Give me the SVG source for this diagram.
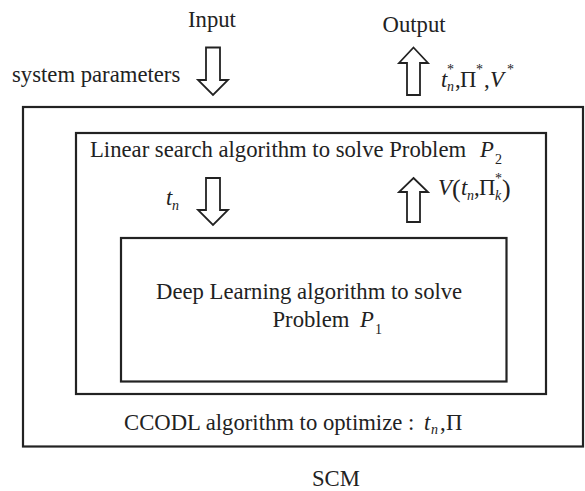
<svg xmlns="http://www.w3.org/2000/svg" width="585" height="491" viewBox="0 0 585 491">
<style>
text{font-family:"Liberation Serif","Times New Roman",serif;font-size:22.7px;fill:#222}
.i{font-style:italic}
.s{font-size:14px}
.p{font-size:26px}
.box{fill:none;stroke:#222;stroke-width:2.2}
.arr{fill:#fff;stroke:#222;stroke-width:1.8;stroke-linejoin:miter}
</style>
<rect width="585" height="491" fill="#fff"/>
<g id="scm">
<rect class="box" x="23" y="107" width="560" height="339.5"/>
<text x="124" y="430">CCODL algorithm to optimize :</text>
<text class="i" x="424" y="430">t</text>
<text class="i s" x="431" y="434">n</text>
<text x="440" y="430">,</text>
<text x="446" y="430">Π</text>
<text x="312" y="486">SCM</text>
</g>
<g id="linear">
<rect class="box" x="76" y="133" width="470" height="261"/>
<text x="90" y="157">Linear search algorithm to solve Problem</text>
<text class="i" x="480" y="157">P</text>
<text class="s" x="495" y="164">2</text>
</g>
<g id="deep">
<rect class="box" x="121" y="238" width="385.5" height="143.5"/>
<text x="156" y="299">Deep Learning algorithm to solve</text>
<text x="272.5" y="327">Problem</text>
<text class="i" x="360" y="327">P</text>
<text class="s" x="375" y="334">1</text>
</g>
<g id="input">
<text x="188" y="26.5">Input</text>
<text x="12" y="81.5">system parameters</text>
</g>
<g id="output">
<text x="382.5" y="32">Output</text>
<text class="i" x="441" y="86.5">t</text>
<text class="i s" x="447" y="91">n</text>
<text class="s" x="447" y="74">*</text>
<text x="455" y="86.5">,</text>
<text x="460" y="86.5">Π</text>
<text class="s" x="476" y="74">*</text>
<text x="484" y="86.5">,</text>
<text class="i" x="490" y="86.5">V</text>
<text class="s" x="507" y="74">*</text>
</g>
<g id="connectors">
<polygon class="arr" points="206,47.5 220,47.5 220,80 228,80 213,95 198,80 206,80"/>
<polygon class="arr" points="413.5,47.5 428,63 420,63 420,95 407,95 407,63 399,63"/>
<polygon class="arr" points="206,178 220,178 220,210 228,210 213,225 198,210 206,210"/>
<polygon class="arr" points="413.5,178 428,192 420,192 420,222 407,222 407,192 399,192"/>
<text class="i" x="166" y="205">t</text>
<text class="i s" x="172" y="209.5">n</text>
<text class="i" x="438" y="195">V</text>
<text class="p" x="452" y="197">(</text>
<text class="i" x="461" y="195">t</text>
<text class="i s" x="467" y="199.5">n</text>
<text x="474" y="195">,</text>
<text x="479" y="195">Π</text>
<text class="i s" x="495" y="199.5">k</text>
<text class="s" x="495" y="183">*</text>
<text class="p" x="502" y="197">)</text>
</g>
</svg>
